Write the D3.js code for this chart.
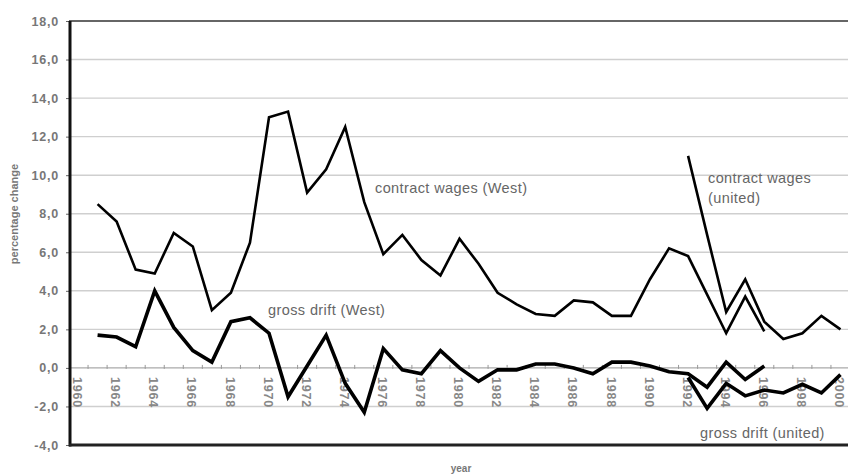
<!DOCTYPE html>
<html>
<head>
<meta charset="utf-8">
<script src="https://cdn.jsdelivr.net/npm/d3@7"></script>
<style>
  body { margin: 0; background: #fff; }
  svg { display: block; font-family: "Liberation Sans", Arial, sans-serif; }
</style>
</head>
<body>
<svg id="drawing_region"></svg>
<script>
// categories (years on the x axis)
const years = [1960, 1961, 1962, 1963, 1964, 1965, 1966, 1967, 1968, 1969,
               1970, 1971, 1972, 1973, 1974, 1975, 1976, 1977, 1978, 1979,
               1980, 1981, 1982, 1983, 1984, 1985, 1986, 1987, 1988, 1989,
               1990, 1991, 1992, 1993, 1994, 1995, 1996, 1997, 1998, 1999, 2000];

// West Germany: 1961 - 1996
const westYears = [1961, 1962, 1963, 1964, 1965, 1966, 1967, 1968, 1969, 1970,
                   1971, 1972, 1973, 1974, 1975, 1976, 1977, 1978, 1979, 1980,
                   1981, 1982, 1983, 1984, 1985, 1986, 1987, 1988, 1989, 1990,
                   1991, 1992, 1993, 1994, 1995, 1996];
const contractWest = [8.5, 7.6, 5.1, 4.9, 7.0, 6.3, 3.0, 3.9, 6.5, 13.0,
                      13.3, 9.1, 10.3, 12.5, 8.6, 5.9, 6.9, 5.6, 4.8, 6.7,
                      5.4, 3.9, 3.3, 2.8, 2.7, 3.5, 3.4, 2.7, 2.7, 4.6,
                      6.2, 5.8, 3.8, 1.8, 3.7, 1.9];
const grossWest = [1.7, 1.6, 1.1, 4.0, 2.1, 0.9, 0.3, 2.4, 2.6, 1.8,
                   -1.5, 0.1, 1.7, -0.8, -2.3, 1.0, -0.1, -0.3, 0.9, 0.0,
                   -0.7, -0.1, -0.1, 0.2, 0.2, 0.0, -0.3, 0.3, 0.3, 0.1,
                   -0.2, -0.3, -1.0, 0.3, -0.6, 0.1];

// united Germany: 1992 - 2000
const unitedYears = [1992, 1993, 1994, 1995, 1996, 1997, 1998, 1999, 2000];
const contractUnited = [11.0, 6.9, 2.9, 4.6, 2.4, 1.5, 1.8, 2.7, 2.0];
const grossUnited = [-0.5, -2.1, -0.8, -1.45, -1.15, -1.3, -0.85, -1.3, -0.35];

const yTicks = [18, 16, 14, 12, 10, 8, 6, 4, 2, 0, -2, -4];

const width = 848, height = 475;
const svg = d3.select('#drawing_region')
    .attr('width', width)
    .attr('height', height);

const xscale = d3.scaleBand()
    .domain(years)
    .range([69, 850])
    .padding(0);

const yscale = d3.scaleLinear()
    .domain([-4, 18])
    .range([445, 21]);

const cx = y => xscale(y) + xscale.bandwidth() / 2;
const fmt = v => d3.format('.1f')(v).replace('.', ',').replace('−', '-');

// gridlines
svg.append('g')
    .selectAll('line')
    .data(yTicks.filter(v => v !== 0 && v !== -4 && v !== 18))
    .join('line')
    .attr('x1', 70).attr('x2', width)
    .attr('y1', d => yscale(d)).attr('y2', d => yscale(d))
    .attr('stroke', '#cfcfcf')
    .attr('stroke-width', 1.4);

// top border
svg.append('line')
    .attr('x1', 69).attr('x2', width)
    .attr('y1', yscale(18)).attr('y2', yscale(18))
    .attr('stroke', '#666').attr('stroke-width', 2);

// zero axis line with category ticks
svg.append('line')
    .attr('x1', 70).attr('x2', width)
    .attr('y1', yscale(0)).attr('y2', yscale(0))
    .attr('stroke', '#aaa').attr('stroke-width', 1.4);

svg.append('g')
    .selectAll('line')
    .data(years.slice(1))
    .join('line')
    .attr('x1', d => xscale(d)).attr('x2', d => xscale(d))
    .attr('y1', yscale(0) - 3).attr('y2', yscale(0) + 1)
    .attr('stroke', '#999').attr('stroke-width', 1);

// y axis
const yaxis = d3.axisLeft(yscale)
    .tickValues(yTicks)
    .tickSize(4)
    .tickPadding(7)
    .tickFormat(fmt);

const yaxis_group = svg.append('g')
    .attr('transform', 'translate(70,0)')
    .call(yaxis);
yaxis_group.select('.domain').remove();
yaxis_group.selectAll('.tick line').attr('stroke', '#666');
yaxis_group.selectAll('.tick text')
    .attr('fill', '#777')
    .attr('font-size', '12.5px')
    .attr('font-weight', 'bold')
    .attr('letter-spacing', '0.8px');

// left and bottom frame
svg.append('line')
    .attr('x1', 70).attr('x2', 70)
    .attr('y1', yscale(18)).attr('y2', yscale(-4) + 1.5)
    .attr('stroke', '#111').attr('stroke-width', 3);
svg.append('line')
    .attr('x1', 69).attr('x2', width)
    .attr('y1', yscale(-4)).attr('y2', yscale(-4))
    .attr('stroke', '#222').attr('stroke-width', 3);

// x tick labels (every second year, rotated)
svg.append('g')
    .selectAll('text')
    .data(years.filter(y => y % 2 === 0))
    .join('text')
    .attr('transform', d => `translate(${cx(d) - 1}, ${yscale(0) + 9}) rotate(90)`)
    .attr('dy', '0.35em')
    .attr('text-anchor', 'start')
    .attr('fill', '#888')
    .attr('font-size', '12.5px')
    .attr('font-weight', 'bold')
    .attr('letter-spacing', '0.8px')
    .text(d => d);

// series lines
const line = d3.line()
    .x(d => cx(d[0]))
    .y(d => yscale(d[1]));

const series = [
    { yrs: westYears, vals: contractWest, w: 2.6 },
    { yrs: westYears, vals: grossWest, w: 3.6 },
    { yrs: unitedYears, vals: contractUnited, w: 2.6 },
    { yrs: unitedYears, vals: grossUnited, w: 3.6 }
];

svg.append('g')
    .selectAll('path')
    .data(series)
    .join('path')
    .attr('d', s => line(s.yrs.map((y, i) => [y, s.vals[i]])))
    .attr('fill', 'none')
    .attr('stroke', '#000')
    .attr('stroke-width', s => s.w)
    .attr('stroke-linejoin', 'miter');

// series labels
const labels = [
    { x: 375, y: 193, t: 'contract wages (West)' },
    { x: 268, y: 315, t: 'gross drift (West)' },
    { x: 708, y: 183, t: 'contract wages' },
    { x: 708, y: 203, t: '(united)' },
    { x: 700, y: 438, t: 'gross drift (united)' }
];
svg.append('g')
    .selectAll('text')
    .data(labels)
    .join('text')
    .attr('x', d => d.x)
    .attr('y', d => d.y)
    .attr('fill', '#666')
    .attr('font-size', '14.5px')
    .attr('letter-spacing', '0.4px')
    .text(d => d.t);

// axis titles
svg.append('text')
    .attr('transform', 'translate(18, 214) rotate(-90)')
    .attr('text-anchor', 'middle')
    .attr('fill', '#777')
    .attr('font-size', '11px')
    .attr('font-weight', 'bold')
    .text('percentage change');

svg.append('text')
    .attr('x', 461)
    .attr('y', 472)
    .attr('text-anchor', 'middle')
    .attr('fill', '#777')
    .attr('font-size', '10px')
    .attr('font-weight', 'bold')
    .text('year');
</script>
</body>
</html>
